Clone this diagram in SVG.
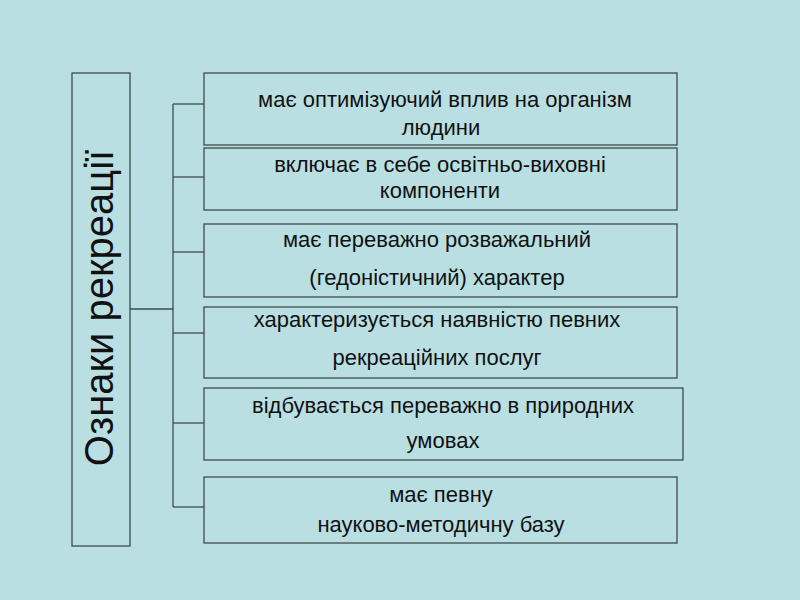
<svg xmlns="http://www.w3.org/2000/svg" width="800" height="600" viewBox="0 0 800 600">
<style>
.box{fill:#BADFE2;stroke:#3F4B4B;stroke-width:1.3}
.ln{fill:none;stroke:#3F4B4B;stroke-width:1.3}
.t{font-family:"Liberation Sans",Arial,sans-serif;font-size:22px;fill:#111;text-anchor:middle}
.big{font-family:"Liberation Sans",Arial,sans-serif;font-size:40px;fill:#111;text-anchor:middle}
</style>
<rect width="800" height="600" fill="#BADFE2"/>
<g id="connectors">
<line class="ln" x1="130" y1="309" x2="173" y2="309"/>
<line class="ln" x1="173" y1="104" x2="173" y2="507"/>
<line class="ln" x1="173" y1="104" x2="204" y2="104"/>
<line class="ln" x1="173" y1="177" x2="204" y2="177"/>
<line class="ln" x1="173" y1="252" x2="204" y2="252"/>
<line class="ln" x1="173" y1="333" x2="204" y2="333"/>
<line class="ln" x1="173" y1="423" x2="204" y2="423"/>
<line class="ln" x1="173" y1="507" x2="204" y2="507"/>
</g>
<g id="root">
<rect class="box" x="72" y="73" width="58" height="473"/>
<text class="big" transform="translate(113,308) rotate(-90)">Ознаки рекреації</text>
</g>
<g id="n1">
<rect class="box" x="204" y="73" width="473" height="72"/>
<text class="t" x="445" y="107">має оптимізуючий вплив на організм</text>
<text class="t" x="441" y="135">людини</text>
</g>
<g id="n2">
<rect class="box" x="204" y="148" width="473" height="62"/>
<text class="t" x="440" y="172">включає в себе освітньо-виховні</text>
<text class="t" x="440" y="198">компоненти</text>
</g>
<g id="n3">
<rect class="box" x="204" y="224" width="473" height="73"/>
<text class="t" x="437" y="247">має переважно розважальний</text>
<text class="t" x="437" y="285">(гедоністичний) характер</text>
</g>
<g id="n4">
<rect class="box" x="204" y="307" width="473" height="71"/>
<text class="t" x="437" y="327">характеризується наявністю певних</text>
<text class="t" x="437" y="365">рекреаційних послуг</text>
</g>
<g id="n5">
<rect class="box" x="204" y="388" width="479" height="72"/>
<text class="t" x="443" y="413">відбувається переважно в природних</text>
<text class="t" x="443" y="448">умовах</text>
</g>
<g id="n6">
<rect class="box" x="204" y="477" width="473" height="66"/>
<text class="t" x="441" y="502">має певну</text>
<text class="t" x="441" y="532">науково-методичну базу</text>
</g>
</svg>
